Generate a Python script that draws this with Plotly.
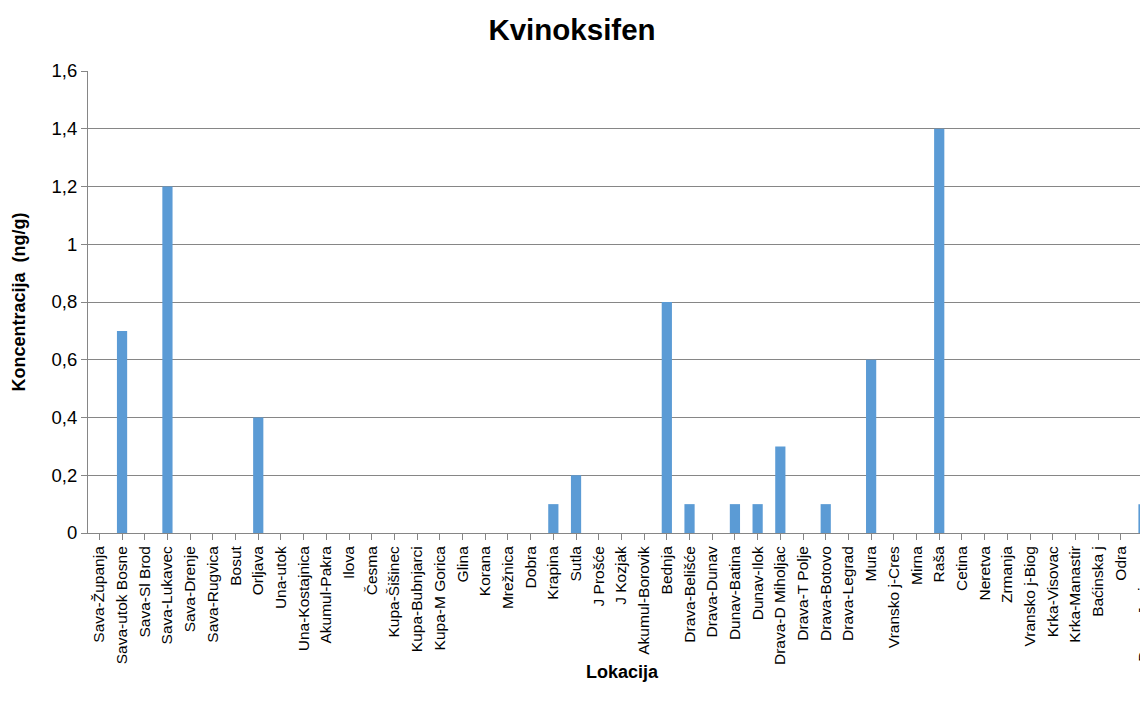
import plotly.graph_objects as go

categories = [
    "Sava-Županja", "Sava-utok Bosne", "Sava-Sl Brod", "Sava-Lukavec", "Sava-Drenje",
    "Sava-Rugvica", "Bosut", "Orljava", "Una-utok", "Una-Kostajnica", "Akumul-Pakra",
    "Ilova", "Česma", "Kupa-Šišinec", "Kupa-Bubnjarci", "Kupa-M Gorica", "Glina",
    "Korana", "Mrežnica", "Dobra", "Krapina", "Sutla", "J Prošće", "J Kozjak",
    "Akumul-Borovik", "Bednja", "Drava-Belišće", "Drava-Dunav", "Dunav-Batina",
    "Dunav-Ilok", "Drava-D Miholjac", "Drava-T Polje", "Drava-Botovo", "Drava-Legrad",
    "Mura", "Vransko j-Cres", "Mirna", "Raša", "Cetina", "Neretva", "Zrmanja",
    "Vransko j-Biog", "Krka-Visovac", "Krka-Manastir", "Baćinska j", "Odra",
    "Drava-Josipovac",
]
values = [
    0, 0.7, 0, 1.2, 0,
    0, 0, 0.4, 0, 0, 0,
    0, 0, 0, 0, 0, 0,
    0, 0, 0, 0.1, 0.2, 0, 0,
    0, 0.8, 0.1, 0, 0.1,
    0.1, 0.3, 0, 0.1, 0,
    0.6, 0, 0, 1.4, 0, 0, 0,
    0, 0, 0, 0, 0,
    0.1,
]
y_ticks = [0, 0.2, 0.4, 0.6, 0.8, 1.0, 1.2, 1.4, 1.6]

W, H = 1148, 709
L, T, B = 80, 63, 184

fig = go.Figure(go.Bar(
    x=list(range(len(categories))), y=values,
    marker=dict(color="#5b9bd5", line=dict(width=0)),
    width=0.45,
))

fig.update_layout(
    width=W, height=H,
    margin=dict(l=L, r=0, t=T, b=B, autoexpand=False),
    paper_bgcolor="white", plot_bgcolor="white",
    font=dict(family="Liberation Sans, Arial, sans-serif", color="black"),
    showlegend=False,
    title=dict(text="<b>Kvinoksifen</b>", x=564/W, xanchor="center",
               y=1-22/H, yanchor="middle", font=dict(size=29.5, color="black")),
    xaxis=dict(
        range=[-0.5, 46.55], automargin=False,
        tickmode="array", tickvals=list(range(len(categories))), ticktext=categories,
        tickangle=-90, tickfont=dict(size=15.5),
        ticks="outside", ticklen=6, tickcolor="#868686", tickson="boundaries",
        showline=True, linecolor="#868686", linewidth=1,
        showgrid=False, zeroline=False,
    ),
    yaxis=dict(
        range=[0, 1.6], automargin=False, tickmode="array", tickvals=y_ticks,
        ticktext=[("%g" % v).replace(".", ",") for v in y_ticks],
        tickfont=dict(size=18.5),
        ticks="outside", ticklen=6, tickcolor="#868686",
        showline=True, linecolor="#868686", linewidth=1,
        showgrid=True, gridcolor="#868686", gridwidth=1,
        zeroline=False,
    ),
    annotations=[
        dict(text="<b>Koncentracija  (ng/g)</b>", xref="paper", yref="paper",
             x=0, y=0.5, xshift=10.5 - L, textangle=-90, showarrow=False,
             xanchor="center", yanchor="middle", font=dict(size=18)),
        dict(text="<b>Lokacija</b>", xref="paper", yref="paper",
             x=(614 - L) / (W - L), y=0, yshift=-(664 - (H - B)), showarrow=False,
             xanchor="center", yanchor="middle", font=dict(size=18)),
    ],
)

fig.write_html("out.html")
